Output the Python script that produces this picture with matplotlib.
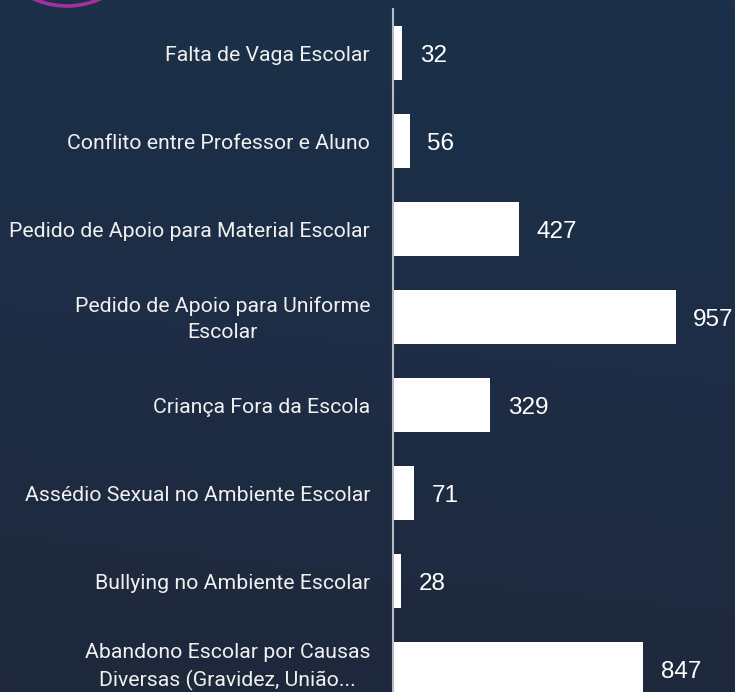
import numpy as np
import matplotlib
matplotlib.use("Agg")
import matplotlib.pyplot as plt
from matplotlib.colors import LinearSegmentedColormap
from matplotlib.patches import Circle

# ── Data ──────────────────────────────────────────────────────────────
categories = [
    "Falta de Vaga Escolar",
    "Conflito entre Professor e Aluno",
    "Pedido de Apoio para Material Escolar",
    "Pedido de Apoio para Uniforme\nEscolar",
    "Criança Fora da Escola",
    "Assédio Sexual no Ambiente Escolar",
    "Bullying no Ambiente Escolar",
    "Abandono Escolar por Causas\nDiversas (Gravidez, União...",
]
values = [32, 56, 427, 957, 329, 71, 28, 847]

# ── Figure ────────────────────────────────────────────────────────────
W, H = 735, 692
fig = plt.figure(figsize=(W / 100, H / 100), dpi=100)

# background gradient + purple ring (figure pixel coords)
bg = fig.add_axes([0, 0, 1, 1])
cmap = LinearSegmentedColormap.from_list("bg", ["#1b3049", "#1d2d45", "#1f283b"])
yy, xx = np.mgrid[0:1:200j, 0:1:200j]
grad = 0.9 * yy + 0.1 * (1 - xx)
bg.imshow(grad, cmap=cmap, extent=[0, W, H, 0], aspect="auto", interpolation="bilinear")
bg.add_patch(Circle((67, -75), 81, fill=False, edgecolor="#a0329f", linewidth=2.6))
bg.set_xlim(0, W)
bg.set_ylim(H, 0)
bg.axis("off")

# main bar axes
ax_left, ax_top, ax_bottom = 393, 9, 713
ax = fig.add_axes([ax_left / W, (H - ax_bottom) / H,
                   (W - ax_left) / W, (ax_bottom - ax_top) / H])
ax.patch.set_alpha(0)

y = np.arange(len(categories))
ax.barh(y, values, height=0.61, color="white")
ax.set_xlim(0, 1157)
ax.set_ylim(len(categories) - 0.5, -0.5)

# value labels
for yi, v in zip(y, values):
    ax.annotate(str(v), (v, yi), xytext=(12.5, 0), textcoords="offset points",
                va="center_baseline", ha="left",
                color="white", fontsize=17.5, family="Liberation Sans")

# category labels (drawn as annotations so the clipped last one can sit a bit higher)
trans = ax.get_yaxis_transform()
for i, (yi, lab) in enumerate(zip(y, categories)):
    dy = 1.5 if i == len(categories) - 1 else -1.5
    ax.annotate(lab, (0, yi), xycoords=trans, xytext=(-16.5, dy),
                textcoords="offset points", ha="right", va="center",
                multialignment="center", linespacing=1.5,
                fontsize=15.3, color="#f0f0f0", family="Roboto")

ax.set_yticks([])
ax.set_xticks([])
for s in ["top", "right", "bottom"]:
    ax.spines[s].set_visible(False)
ax.spines["left"].set_color("#b8bcc2")
ax.spines["left"].set_linewidth(1.5)

fig.savefig("out.png", dpi=100)
